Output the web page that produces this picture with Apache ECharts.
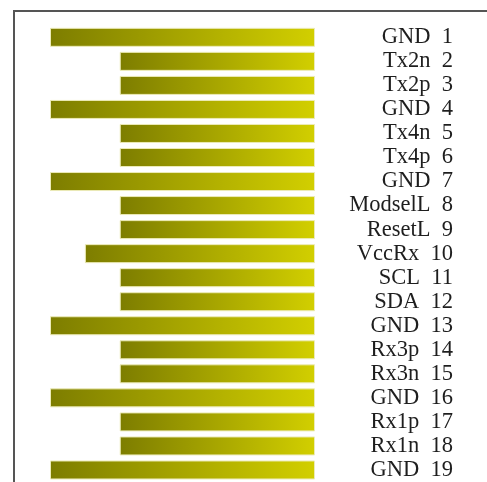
<!DOCTYPE html>
<html>
<head>
<meta charset="utf-8">
<script src="https://cdn.jsdelivr.net/npm/echarts@6/dist/echarts.min.js"></script>
<style>
html,body{margin:0;padding:0;background:#fff;}
#chart{width:487px;height:482px;}
#frame{position:absolute;left:13px;top:10px;width:480px;height:480px;border-top:2px solid #555;border-left:2px solid #555;pointer-events:none;}
</style>
</head>
<body>
<div id="chart"></div>
<div id="frame"></div>
<script>
const pinNames = ['GND','Tx2n','Tx2p','GND','Tx4n','Tx4p','GND','ModselL','ResetL','VccRx','SCL','SDA','GND','Rx3p','Rx3n','GND','Rx1p','Rx1n','GND'];
const pinNumbers = [1,2,3,4,5,6,7,8,9,10,11,12,13,14,15,16,17,18,19];
const pinLengths = [3.8,2.8,2.8,3.8,2.8,2.8,3.8,2.8,2.8,3.3,2.8,2.8,3.8,2.8,2.8,3.8,2.8,2.8,3.8];
const axisMax = 3.8;

const labels = pinNames.map((n, i) => n + '  ' + pinNumbers[i]);
const chart = echarts.init(document.getElementById('chart'), null, {renderer: 'canvas'});
chart.setOption({
  animation: false,
  backgroundColor: '#fff',
  grid: {left: 50, right: 172, top: 25.3, bottom: -0.3},
  xAxis: {
    type: 'value', inverse: true, min: 0, max: axisMax, show: false
  },
  yAxis: {
    type: 'category', data: labels, inverse: true, position: 'right',
    axisLine: {show: false}, axisTick: {show: false}, splitLine: {show: false},
    axisLabel: {
      interval: 0, align: 'right', margin: 138,
      fontFamily: 'Liberation Serif', fontSize: 22.5, color: '#1e1e1e'
    }
  },
  series: [{
    type: 'bar',
    data: pinLengths,
    barWidth: 19,
    itemStyle: {
      borderColor: '#ecebb8', borderWidth: 1,
      color: new echarts.graphic.LinearGradient(0, 0, 1, 0, [
        {offset: 0, color: '#7d7d00'},
        {offset: 1, color: '#d2cf00'}
      ])
    }
  }]
});
</script>
</body>
</html>
